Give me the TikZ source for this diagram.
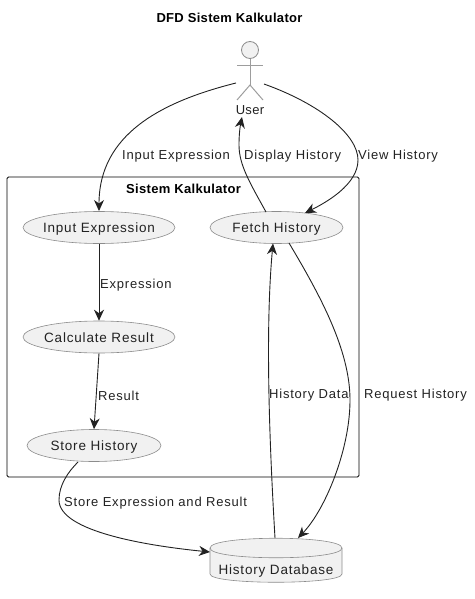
\documentclass[tikz,border=0pt]{standalone}
\usepackage{fontspec}
\setmainfont{Liberation Sans}[LetterSpace=6]
\newfontfamily\tightf{Liberation Sans}[LetterSpace=2.5]
\usetikzlibrary{shapes.geometric,arrows.meta}
\definecolor{ubg}{HTML}{F1F1F1}
\definecolor{ubd}{HTML}{8C8C8C}
\definecolor{ink}{HTML}{222222}
\tikzset{
  proc/.style={ellipse,draw=ubd,fill=ubg,line width=.6pt,minimum height=32pt,inner ysep=0pt,inner xsep=-25pt,font=\fontsize{13.5}{15}\selectfont,text=ink,text height=10.5pt,text depth=0pt},
  flow/.style={draw=ink,line width=.9pt,-{Stealth[length=11pt,width=10pt,inset=3.5pt]}},
  lab/.style={font=\fontsize{13}{15}\selectfont,text=ink,inner sep=0pt,anchor=west},
  heading/.style={font=\tightf\bfseries\fontsize{13}{15}\selectfont,inner sep=0pt},
  person/.style={draw=ubd!85,line width=1pt}
}
\begin{document}
\begin{tikzpicture}[x=1pt,y=-1pt]
\useasboundingbox (0,0) rectangle (474,599);
\node[heading] (title) at (229.5,18) {DFD Sistem Kalkulator};
% actor
\node[circle,draw=ubd,fill=ubg,line width=.8pt,minimum size=17pt,inner sep=0pt] (head) at (250,50) {};
\coordinate (hip) at (250,85);
\coordinate (armL) at (237,66);
\coordinate (armR) at (263,66);
\coordinate (legL) at (237,100);
\coordinate (legR) at (263,100);
\draw[person] (head.south) -- (hip);
\draw[person] (armL) -- (armR);
\draw[person] (legL) -- (hip) -- (legR);
\node[font=\tightf\fontsize{13}{15}\selectfont,inner sep=0pt,text=ink] (user) at (250,110) {User};
% boundary
\node[draw=black,line width=.9pt,rounded corners=1.5pt,minimum width=352pt,minimum height=300pt,inner sep=0pt] (sys) at (183,327) {};
\node[heading] (systitle) at (183.5,189) {Sistem Kalkulator};
% processes
\node[proc,minimum width=152pt] (input) at (99,227.5) {Input Expression};
\node[proc,minimum width=152pt] (calc) at (99,337) {Calculate Result};
\node[proc,minimum width=134pt] (store) at (94,445.5) {Store History};
\node[proc,minimum width=133pt] (fetch) at (276.5,227.5) {Fetch History};
% database
\draw[draw=ubd,fill=ubg,line width=.6pt] (210,548) .. controls (210,535) and (342,535) .. (342,548) -- (342,574) .. controls (342,585) and (210,585) .. (210,574) -- cycle;
\draw[draw=ubd,line width=.6pt] (210,548) .. controls (210,561) and (342,561) .. (342,548);
\node[font=\fontsize{13.5}{15}\selectfont,inner sep=0pt,text=ink] (db) at (276,571) {History Database};
% anchors of connectors
\coordinate (uL) at (236,83);
\coordinate (uR) at (264,84);
\coordinate (uB) at (242,117);
\coordinate (iT) at (99,211);
\coordinate (fT) at (305,213);
\coordinate (fS) at (266,212);
\coordinate (fB) at (273,243.5);
\coordinate (fQ) at (289,243);
\coordinate (dT) at (275,538);
\coordinate (dQ) at (298,538);
\coordinate (dL) at (210,552);
\coordinate (sB) at (78,462);
% connectors
\draw[flow] (uL) .. controls (160,102) and (99,135) .. (iT);
\draw[flow] (uR) .. controls (320,104) and (358,135) .. (358,160) .. controls (358,185) and (325,203) .. (fT);
\draw[flow] (fS) .. controls (250,183) and (239,165) .. (239,145) .. controls (239,135) and (240,127) .. (uB);
\draw[flow] (input.south) -- (calc.north);
\draw[flow] (calc.south) -- (store.north);
\draw[flow] (sB) .. controls (68,472) and (59,485) .. (59,500) .. controls (59,532) and (150,546) .. (dL);
\draw[flow] (dT) .. controls (268,420) and (266,320) .. (fB);
\draw[flow] (fQ) .. controls (320,295) and (350,350) .. (350,400) .. controls (350,450) and (325,510) .. (dQ);
% labels
\node[lab] (l1) at (122,156.5) {Input Expression};
\node[lab] (l2) at (244,156.5) {Display History};
\node[lab] (l3) at (358,156.5) {View History};
\node[lab] (l4) at (100,285) {Expression};
\node[lab] (l5) at (98,395.5) {Result};
\node[lab] (l6) at (269,395.5) {History Data};
\node[lab] (l7) at (364,395.5) {Request History};
\node[lab] (l8) at (64,503) {Store Expression and Result};
\end{tikzpicture}
\end{document}
